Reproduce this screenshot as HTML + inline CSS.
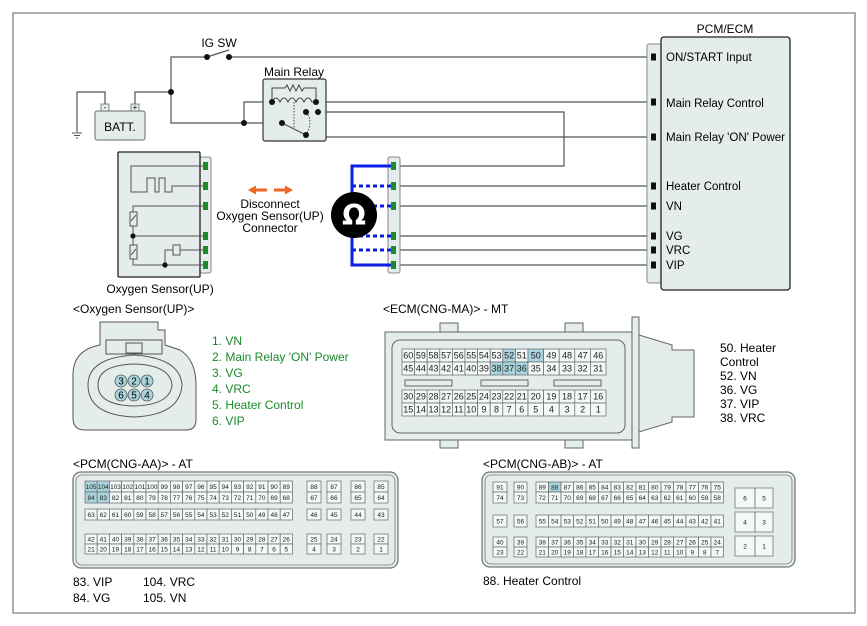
<!DOCTYPE html>
<html><head><meta charset="utf-8"><style>
html,body{margin:0;padding:0;background:#fff}
svg{display:block;font-family:"Liberation Sans",sans-serif}
</style></head><body>
<svg id="s" width="867" height="626" viewBox="0 0 867 626" xmlns="http://www.w3.org/2000/svg">
<rect x="13" y="13" width="842" height="600" fill="#fff" stroke="#777" stroke-width="1.2"/>
<g fill="none" stroke="#555" stroke-width="1.2">
<polyline points="207,57 171,57 171,123 282,123"/>
<line x1="229" y1="57" x2="650" y2="57"/>
<line x1="207" y1="57" x2="229" y2="50"/>
<polyline points="135,104 135,92 171,92"/>
<polyline points="105,104 105,92 77,92 77,132"/>
<polyline points="244,123 244,102 272,102"/>
<line x1="316" y1="102" x2="650" y2="102"/>
<polyline points="318,112 564,112 564,166 396,166"/>
<polyline points="318,112 318,137 650,137"/>
<line x1="396" y1="186" x2="650" y2="186"/>
<line x1="396" y1="206" x2="650" y2="206"/>
<line x1="396" y1="236" x2="650" y2="236"/>
<line x1="396" y1="250" x2="650" y2="250"/>
<line x1="396" y1="265" x2="650" y2="265"/>
</g>
<g stroke="#555" stroke-width="1"><line x1="72" y1="133" x2="82" y2="133"/><line x1="74" y1="135.5" x2="80" y2="135.5"/><line x1="76" y1="138" x2="78" y2="138"/></g>
<rect x="95" y="111" width="50" height="29" rx="2" fill="#e4ecec" stroke="#666"/>
<rect x="101" y="104" width="8" height="7" fill="#e4ecec" stroke="#666" stroke-width=".8"/>
<rect x="131" y="104" width="8" height="7" fill="#e4ecec" stroke="#666" stroke-width=".8"/>
<text x="105" y="110" font-size="8" text-anchor="middle">-</text>
<text x="135" y="110" font-size="8" text-anchor="middle">+</text>
<text x="120" y="131" font-size="12" text-anchor="middle">BATT.</text>
<text x="219" y="47" font-size="12" text-anchor="middle">IG SW</text>
<g fill="#111"><circle cx="207" cy="57" r="3"/><circle cx="229" cy="57" r="3"/><circle cx="171" cy="92" r="3"/><circle cx="244" cy="123" r="3"/></g>
<text x="294" y="76" font-size="12" text-anchor="middle">Main Relay</text>
<rect x="263" y="79" width="63" height="62" rx="2" fill="#e4ecec" stroke="#333" stroke-width="1.2"/>
<g fill="none" stroke="#444" stroke-width="1">
<polyline points="272,102 272,88 285,88 287,85 290,91 293,85 296,91 299,85 302,91 304,88 316,88 316,102"/>
<path d="M272,102 q4,-8 8,0 q4,-8 8,0 q4,-8 8,0 q4,-8 8,0 q4,-8 8,0 l4,0"/>
<line x1="294" y1="102" x2="294" y2="128" stroke-dasharray="1.5,1.5"/>
<line x1="282" y1="123" x2="306" y2="135"/>
<path d="M306,112 q8,10 0,23" stroke-dasharray="1.5,1.5"/>
</g>
<g fill="#111"><circle cx="272" cy="102" r="3"/><circle cx="316" cy="102" r="3"/><circle cx="306" cy="112" r="3"/><circle cx="318" cy="112" r="3"/><circle cx="282" cy="123" r="3"/><circle cx="306" cy="135" r="3"/></g>
<rect x="200" y="157" width="11" height="116" rx="2" fill="#e4ecec" stroke="#888"/>
<rect x="118" y="152" width="82" height="125" rx="1" fill="#e4ecec" stroke="#222" stroke-width="1.3"/>
<g fill="none" stroke="#555" stroke-width="1">
<polyline points="205,166 131,166 131,192 147,192 147,178 155,178 155,192 159,192 159,178 165,178 165,192 172,192 172,186 205,186"/>
<polyline points="205,206 133,206 133,212"/><rect x="130" y="212" width="7" height="14" fill="#e4ecec"/>
<polyline points="133,226 133,245"/><line x1="133" y1="236" x2="205" y2="236"/>
<rect x="130" y="245" width="7" height="14" fill="#e4ecec"/>
<polyline points="133,259 133,265 205,265"/>
<polyline points="165,265 165,250 173,250"/><rect x="173" y="245" width="7" height="10" fill="#e4ecec"/><line x1="180" y1="250" x2="205" y2="250"/>
<line x1="131" y1="221" x2="136" y2="215"/><line x1="131" y1="255" x2="136" y2="249"/>
</g>
<g fill="#111"><circle cx="133" cy="236" r="2.6"/><circle cx="165" cy="265" r="2.6"/></g>
<g id="gp1" fill="#1a8a2a"></g>
<text x="160" y="293" font-size="12" text-anchor="middle">Oxygen Sensor(UP)</text>
<g fill="#f26522"><rect x="254" y="188.5" width="13" height="3"/><polygon points="248,190 256,185.5 256,194.5"/><rect x="274" y="188.5" width="13" height="3"/><polygon points="293,190 285,185.5 285,194.5"/></g>
<g font-size="12" text-anchor="middle"><text x="270" y="208">Disconnect</text><text x="270" y="220">Oxygen Sensor(UP)</text><text x="270" y="232">Connector</text></g>
<rect x="388" y="157" width="12" height="116" rx="2" fill="#e4ecec" stroke="#888"/>
<g stroke="#0a1ee8" stroke-width="3" fill="none">
<polyline points="392,166 352,166 352,265 392,265"/>
<g stroke-dasharray="4,3"><line x1="352" y1="186" x2="392" y2="186"/><line x1="352" y1="206" x2="392" y2="206"/><line x1="352" y1="236" x2="392" y2="236"/><line x1="352" y1="250" x2="392" y2="250"/></g>
</g>
<circle cx="354" cy="215" r="23" fill="#000"/>
<text x="354" y="225" font-size="28" font-weight="bold" fill="#fff" text-anchor="middle" font-family="DejaVu Sans,sans-serif">Ω</text>
<g id="gp2" fill="#1a8a2a"></g>
<text x="725" y="33" font-size="12" text-anchor="middle">PCM/ECM</text>
<rect x="647" y="44" width="16" height="239" rx="2" fill="#e4ecec" stroke="#888"/>
<rect x="661" y="37" width="129" height="253" rx="3" fill="#e4ecec" stroke="#222" stroke-width="1.3"/>
<g id="pp" fill="#111"></g>
<g font-size="11.5"><text x="666" y="61">ON/START Input</text><text x="666" y="107">Main Relay Control</text><text x="666" y="141" textLength="119" lengthAdjust="spacingAndGlyphs">Main Relay 'ON' Power</text><text x="666" y="190">Heater Control</text><text x="666" y="210">VN</text><text x="666" y="240">VG</text><text x="666" y="254">VRC</text><text x="666" y="269">VIP</text></g>
<text x="73" y="313" font-size="12">&lt;Oxygen Sensor(UP)&gt;</text>
<g fill="#e4ecec" stroke="#555" stroke-width="1">
<path d="M100,330 L100,322 L158,322 L158,330 L165,330 L165,345 L180,350 Q196,360 196,385 L196,420 Q196,430 186,430 L85,430 Q73,430 73,418 L73,375 Q73,350 100,345 Z"/>
<path d="M88,385 Q88,358 134,355 Q180,358 182,385 Q180,415 134,417 Q88,415 88,385 Z"/>
<path d="M98,385 Q98,365 134,364 Q170,365 172,385 Q170,405 134,406 Q98,405 98,385 Z"/>
<rect x="106" y="340" width="56" height="14"/><rect x="126" y="343" width="16" height="10"/>
</g>
<g id="ocp"></g>
<g font-size="12" fill="#1a8a2a"><text x="212" y="345">1. VN</text><text x="212" y="361">2. Main Relay 'ON' Power</text><text x="212" y="377">3. VG</text><text x="212" y="393">4. VRC</text><text x="212" y="409">5. Heater Control</text><text x="212" y="425">6. VIP</text></g>
<text x="383" y="313" font-size="12">&lt;ECM(CNG-MA)&gt; - MT</text>
<g fill="#e4ecec" stroke="#666" stroke-width="1">
<rect x="440" y="323" width="18" height="10"/><rect x="565" y="323" width="18" height="10"/>
<rect x="440" y="438" width="18" height="10"/><rect x="565" y="438" width="18" height="10"/>
<rect x="385" y="332" width="247" height="108"/>
<rect x="392" y="340" width="233" height="93" rx="8"/>
<rect x="632" y="317" width="7" height="131"/>
<polygon points="639,335 672,345 672,350 694,350 694,417 672,417 672,422 639,432"/>
</g>
<g id="ecm"></g>
<g fill="#e4ecec" stroke="#666"><rect x="405" y="380" width="47" height="6"/><rect x="481" y="380" width="47" height="6"/><rect x="554" y="380" width="47" height="6"/></g>
<g font-size="12"><text x="720" y="352">50. Heater</text><text x="720" y="366">Control</text><text x="720" y="380">52. VN</text><text x="720" y="394">36. VG</text><text x="720" y="408">37. VIP</text><text x="720" y="422">38. VRC</text></g>
<text x="73" y="468" font-size="12">&lt;PCM(CNG-AA)&gt; - AT</text>
<rect x="73" y="472" width="325" height="96" rx="8" fill="#e4ecec" stroke="#777" stroke-width="1.3"/>
<rect x="76" y="475" width="319" height="90" rx="6" fill="none" stroke="#777" stroke-width=".8"/>
<g id="aa"></g>
<g font-size="12"><text x="73" y="586">83. VIP</text><text x="73" y="602">84. VG</text><text x="143" y="586">104. VRC</text><text x="143" y="602">105. VN</text></g>
<text x="483" y="468" font-size="12">&lt;PCM(CNG-AB)&gt; - AT</text>
<rect x="482" y="472" width="313" height="95" rx="8" fill="#e4ecec" stroke="#777" stroke-width="1.3"/>
<rect x="485" y="475" width="307" height="89" rx="6" fill="none" stroke="#777" stroke-width=".8"/>
<g id="ab"></g>
<text x="483" y="585" font-size="12">88. Heater Control</text>
</svg>
<script>
var NS="http://www.w3.org/2000/svg";
function el(p,t,a,txt){var e=document.createElementNS(NS,t);for(var k in a)e.setAttribute(k,a[k]);if(txt!=null)e.textContent=txt;p.appendChild(e);return e;}
var ys=[166,186,206,236,250,265];
ys.forEach(function(y){el(document.getElementById('gp1'),'rect',{x:203,y:y-4,width:5,height:8});el(document.getElementById('gp2'),'rect',{x:391,y:y-4,width:5,height:8});});
[57,102,137,186,206,236,250,265].forEach(function(y){el(document.getElementById('pp'),'rect',{x:651,y:y-3.5,width:5,height:7});});
var oc=document.getElementById('ocp');
[[121,381,'3'],[134,381,'2'],[147,381,'1'],[121,395,'6'],[134,395,'5'],[147,395,'4']].forEach(function(p){el(oc,'circle',{cx:p[0],cy:p[1],r:6,fill:'#a9d3dc',stroke:'#555','stroke-width':.8});el(oc,'text',{x:p[0],y:p[1]+3.5,'font-size':10,'text-anchor':'middle'},p[2]);});
function cell(g,x,y,w,h,t,hl,fs){el(g,'rect',{x:x,y:y,width:w,height:h,fill:hl?'#a9d3dc':'#f4f8f8',stroke:'#666','stroke-width':.7});el(g,'text',{x:x+w/2,y:y+h/2+(fs||7)*0.36,'font-size':fs||7,'text-anchor':'middle',fill:'#222'},t);}
var g=document.getElementById('ecm');
function ecmRow(y,start,hlset){var x=402;for(var i=0;i<15;i++){var n=start-i;var w=i<10?12.6:15.6;cell(g,x,y,w,13,String(n),hlset.indexOf(n)>=0,9);x+=w;}}
ecmRow(349,60,[52,50]);ecmRow(362,45,[38,37,36]);ecmRow(390,30,[]);ecmRow(403,15,[]);
g=document.getElementById('aa');
function aaRow(y,h,nums,hl){var x=85;nums.forEach(function(n){cell(g,x,y,12.2,h,String(n),hl.indexOf(n)>=0,6.5);x+=12.2;});}
function rng(a,b){var r=[];for(var i=a;i>=b;i--)r.push(i);return r;}
aaRow(481,11,rng(105,89),[105,104]);aaRow(492,11,rng(84,68),[84,83]);aaRow(509,11,rng(63,47),[]);aaRow(534,10,rng(42,26),[]);aaRow(544,10,rng(21,5),[]);
var gx=[307,327,351,374];
var aaR=[[481,11,[88,87,86,85]],[492,11,[67,66,65,64]],[509,11,[46,45,44,43]],[534,10,[25,24,23,22]],[544,10,[4,3,2,1]]];
aaR.forEach(function(r){r[2].forEach(function(n,i){cell(g,gx[i],r[0],14,r[1],String(n),false,6.5);});});
g=document.getElementById('ab');
function abRow(y,h,a,b,nums){cell(g,493,y,14,h,String(a),false,6.5);cell(g,514,y,13,h,String(b),false,6.5);var x=536;nums.forEach(function(n){cell(g,x,y,12.5,h,String(n),n==88,6.5);x+=12.5;});}
abRow(482,10,91,90,rng(89,75));abRow(492,11,74,73,rng(72,58));abRow(515,12,57,56,rng(55,41));abRow(537,10,40,39,rng(38,24));abRow(547,10,23,22,rng(21,7));
[[488,'6','5'],[512,'4','3'],[536,'2','1']].forEach(function(r){cell(g,735,r[0],20,20,r[1],false,6.5);cell(g,755,r[0],18,20,r[2],false,6.5);});
</script>
</body></html>
